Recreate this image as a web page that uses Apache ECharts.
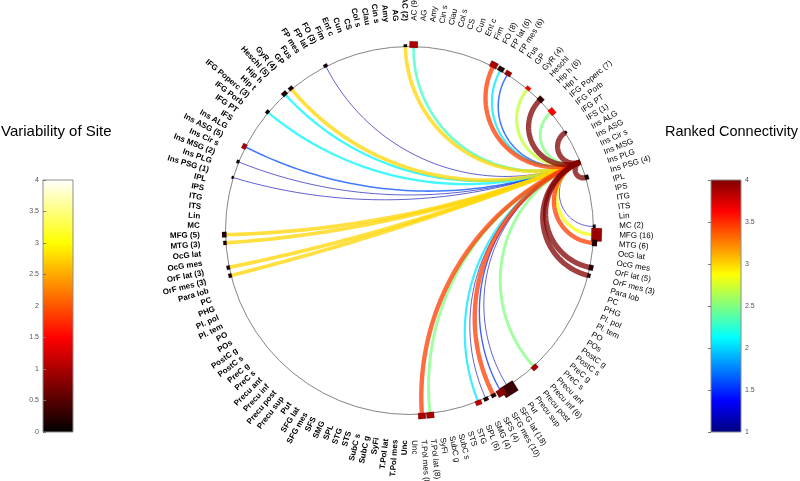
<!DOCTYPE html>
<html>
<head>
<meta charset="utf-8">
<script src="https://cdn.jsdelivr.net/npm/echarts@6/dist/echarts.min.js"></script>
<style>
  html, body { margin: 0; padding: 0; background: #fff; }
  #chart { width: 800px; height: 481px; }
</style>
</head>
<body>
<div id="chart"></div>
<script>
// regions, same order on both hemispheres (alphabetical from the top)
var regions = ['AC', 'AG', 'Amy', 'Cin s', 'Clau', 'Col s', 'CS', 'Cun', 'Ent c', 'Fim',
  'FO', 'FP lat', 'FP mes', 'Fus', 'GP', 'GyR', 'Heschl', 'Hip h', 'Hip t', 'IFG Poperc',
  'IFG Porb', 'IFG PT', 'IFS', 'Ins ALG', 'Ins ASG', 'Ins Cir s', 'Ins MSG', 'Ins PLG', 'Ins PSG', 'IPL',
  'IPS', 'ITG', 'ITS', 'Lin', 'MC', 'MFG', 'MTG', 'OcG lat', 'OcG mes', 'OrF lat',
  'OrF mes', 'Para lob', 'PC', 'PHG', 'Pl. pol', 'Pl. tem', 'PO', 'POs', 'PostC g', 'PostC s',
  'PreC g', 'PreC s', 'Precu ant', 'Precu inf', 'Precu post', 'Precu sup', 'Put', 'SFG lat', 'SFG mes', 'SFS',
  'SMG', 'SPL', 'STG', 'STS', 'SubC s', 'SubC g', 'SyFi', 'T.Pol lat', 'T.Pol mes', 'Unc'];

// seed region all chords start from
var hubSide = 'R';
var hubRegion = 'Ins MSG';

// recording sites: hemisphere, region, number of sites, variability
var siteSide = ['L', 'L', 'L', 'L', 'L', 'L', 'L', 'L', 'L', 'L', 'L', 'L',
  'R', 'R', 'R', 'R', 'R', 'R', 'R', 'R', 'R', 'R', 'R', 'R', 'R', 'R', 'R', 'R', 'R', 'R', 'R', 'R', 'R', 'R'];
var siteRegion = ['AC', 'FO', 'GyR', 'Heschl', 'IFG Poperc', 'Ins ASG', 'Ins MSG', 'Ins PSG', 'MFG', 'MTG', 'OrF lat', 'OrF mes',
  'AC', 'FO', 'FP lat', 'FP mes', 'GyR', 'Hip h', 'IFG Poperc', 'IFS', 'Ins PSG', 'MC', 'MFG', 'MTG', 'OrF lat', 'OrF mes',
  'Precu inf', 'SFG lat', 'SFG mes', 'SFS', 'SMG', 'SPL', 'T.Pol lat', 'T.Pol mes'];
var siteCount = [2, 3, 4, 5, 3, 5, 2, 1, 5, 3, 3, 3,
  9, 8, 6, 6, 4, 6, 7, 1, 4, 2, 16, 6, 5, 3, 6, 18, 10, 4, 4, 6, 8, 8];
var siteVariability = [0.1, 0.1, 0.15, 0.15, 0.1, 1.0, 0.1, 0.1, 0.2, 0.15, 0.15, 0.15,
  1.0, 1.0, 0.2, 0.9, 1.5, 0.3, 1.5, 0.1, 0.1, 0.1, 0.9, 0.2, 0.2, 0.2, 1.0, 0.35, 0.8, 0.2, 0.2, 1.1, 1.0, 1.0];

// connections from the seed: hemisphere, region, rank
var linkSide = ['L', 'L', 'L', 'L', 'L', 'L', 'L', 'L', 'L', 'L', 'L', 'L',
  'R', 'R', 'R', 'R', 'R', 'R', 'R', 'R', 'R', 'R', 'R', 'R', 'R', 'R', 'R', 'R', 'R', 'R', 'R', 'R', 'R', 'R'];
var linkRegion = ['AC', 'FO', 'GyR', 'Heschl', 'IFG Poperc', 'Ins ASG', 'Ins MSG', 'Ins PSG', 'MFG', 'MTG', 'OrF lat', 'OrF mes',
  'AC', 'FO', 'FP lat', 'FP mes', 'GyR', 'Hip h', 'IFG Poperc', 'IFS', 'Ins PSG', 'MC', 'MFG', 'MTG', 'OrF lat', 'OrF mes',
  'Precu inf', 'SFG lat', 'SFG mes', 'SFS', 'SMG', 'SPL', 'T.Pol lat', 'T.Pol mes'];
var linkRank = [3.0, 1.15, 3.0, 2.1, 2.1, 1.6, 1.15, 1.15, 3.0, 3.0, 3.0, 3.0,
  2.3, 3.45, 2.05, 1.6, 2.7, 4.0, 2.5, 4.0, 4.0, 1.15, 2.85, 3.45, 4.0, 4.0,
  2.5, 1.15, 1.5, 3.45, 1.15, 2.05, 2.5, 3.45];

// colour bar ticks
var siteTicks = [0, 0.5, 1, 1.5, 2, 2.5, 3, 3.5, 4];
var rankTicks = [1, 1.5, 2, 2.5, 3, 3.5, 4];

var step = 360 / (2 * regions.length);

function clamp(v) { return Math.max(0, Math.min(1, v)); }
function rgb(r, g, b) {
  return 'rgb(' + Math.round(r * 255) + ',' + Math.round(g * 255) + ',' + Math.round(b * 255) + ')';
}
function jet(t) {
  return rgb(clamp(1.5 - Math.abs(4 * t - 3)), clamp(1.5 - Math.abs(4 * t - 2)), clamp(1.5 - Math.abs(4 * t - 1)));
}
function hot(t) {
  return rgb(clamp(8 * t / 3), clamp(8 * t / 3 - 1), clamp(4 * t - 3));
}
function rankColor(v) {
  return jet((v - rankTicks[0]) / (rankTicks[rankTicks.length - 1] - rankTicks[0]));
}
function siteColor(v) {
  return hot((v - siteTicks[0]) / (siteTicks[siteTicks.length - 1] - siteTicks[0]));
}

// degrees clockwise from the top
function nodeAngle(side, name) {
  var a = (regions.indexOf(name) + 0.5) * step;
  return side === 'R' ? a : -a;
}
function unitPt(deg, r) {
  var t = deg * Math.PI / 180;
  r = r || 1;
  return [r * Math.sin(t), r * Math.cos(t)];
}

// arc orthogonal to the unit circle between two nodes
function arcPts(a1, a2) {
  var p = unitPt(a1), q = unitPt(a2);
  var d = Math.abs(a1 - a2) % 360;
  if (d > 180) d = 360 - d;
  var n = 60, pts = [], k;
  if (d > 179) {
    for (k = 0; k <= n; k++) pts.push([p[0] + (q[0] - p[0]) * k / n, p[1] + (q[1] - p[1]) * k / n]);
    return pts;
  }
  var half = d / 2 * Math.PI / 180;
  var sx = p[0] + q[0], sy = p[1] + q[1], sl = Math.sqrt(sx * sx + sy * sy);
  var cx = sx / sl / Math.cos(half), cy = sy / sl / Math.cos(half), r = Math.tan(half);
  var t1 = Math.atan2(p[1] - cy, p[0] - cx), t2 = Math.atan2(q[1] - cy, q[0] - cx);
  var dt = t2 - t1;
  while (dt > Math.PI) dt -= 2 * Math.PI;
  while (dt < -Math.PI) dt += 2 * Math.PI;
  for (k = 0; k <= n; k++) {
    var t = t1 + dt * k / n;
    pts.push([cx + r * Math.cos(t), cy + r * Math.sin(t)]);
  }
  return pts;
}

// draw thin links first so the strong ones lie on top
var linkOrder = linkRank.map(function (v, i) { return i; });
linkOrder.sort(function (a, b) { return linkRank[a] - linkRank[b]; });

// label text per node
var labelData = [];
['R', 'L'].forEach(function (side) {
  regions.forEach(function (name) {
    var txt = name;
    for (var i = 0; i < siteRegion.length; i++) {
      if (siteSide[i] === side && siteRegion[i] === name) txt += ' (' + siteCount[i] + ')';
    }
    labelData.push({ side: side, name: name, text: txt });
  });
});

function gradient(fn, lo, hi) {
  var stops = [];
  for (var k = 0; k <= 64; k++) {
    stops.push({ offset: k / 64, color: fn(lo + (hi - lo) * k / 64) });
  }
  return new echarts.graphic.LinearGradient(0, 1, 0, 0, stops);
}

function colorBar(gridIndex, ticks, fn) {
  return {
    type: 'custom',
    xAxisIndex: gridIndex,
    yAxisIndex: gridIndex,
    data: [[0, ticks[0]]],
    silent: true,
    renderItem: function (params, api) {
      var tl = api.coord([0, ticks[ticks.length - 1]]);
      var br = api.coord([1, ticks[0]]);
      return {
        type: 'rect',
        shape: { x: tl[0], y: tl[1], width: br[0] - tl[0], height: br[1] - tl[1] },
        style: { fill: gradient(fn, ticks[0], ticks[ticks.length - 1]), stroke: '#8c8c8c', lineWidth: 1 }
      };
    }
  };
}

function barAxis(gridIndex, ticks, position) {
  return {
    gridIndex: gridIndex,
    type: 'value',
    position: position,
    min: ticks[0],
    max: ticks[ticks.length - 1],
    interval: ticks[1] - ticks[0],
    axisLine: { show: false },
    axisTick: { show: true, inside: true, length: 3, lineStyle: { color: '#777' } },
    axisLabel: { fontSize: 7, color: '#555', margin: 4, fontFamily: 'Liberation Sans' },
    splitLine: { show: false },
    z: 5
  };
}

var chart = echarts.init(document.getElementById('chart'));

var option = {
  animation: false,
  backgroundColor: '#fff',
  title: [
    { text: 'Variability of Site', left: 1, top: 124, padding: 0, textStyle: { fontSize: 15, fontWeight: 'normal', color: '#000', fontFamily: 'Liberation Sans' } },
    { text: 'Ranked Connectivity', right: 2, top: 124, padding: 0, textStyle: { fontSize: 14.5, fontWeight: 'normal', color: '#000', fontFamily: 'Liberation Sans' } }
  ],
  grid: [
    { left: 225.5, top: 46.5, width: 368, height: 368 },
    { left: 43, top: 180, width: 30, height: 252 },
    { left: 711, top: 180, width: 30, height: 252 }
  ],
  xAxis: [
    { gridIndex: 0, type: 'value', min: -1, max: 1, show: false },
    { gridIndex: 1, type: 'value', min: 0, max: 1, show: false },
    { gridIndex: 2, type: 'value', min: 0, max: 1, show: false }
  ],
  yAxis: [
    { gridIndex: 0, type: 'value', min: -1, max: 1, show: false },
    barAxis(1, siteTicks, 'left'),
    barAxis(2, rankTicks, 'right')
  ],
  series: [
    // outline circle
    {
      type: 'custom',
      silent: true,
      data: [[0, 0]],
      renderItem: function (params, api) {
        var c = api.coord([0, 0]);
        var r = api.size([1, 0])[0];
        return { type: 'circle', shape: { cx: c[0], cy: c[1], r: r }, style: { fill: 'none', stroke: '#858585', lineWidth: 1 } };
      }
    },
    // connections
    {
      type: 'custom',
      silent: true,
      data: linkOrder.map(function (i) { return [i, linkRank[i]]; }),
      renderItem: function (params, api) {
        var i = linkOrder[params.dataIndex];
        var a1 = nodeAngle(hubSide, hubRegion);
        var a2 = nodeAngle(linkSide[i], linkRegion[i]);
        var pts = arcPts(a1, a2).map(function (p) { return api.coord(p); });
        return {
          type: 'polyline',
          shape: { points: pts },
          style: { stroke: rankColor(linkRank[i]), lineWidth: 0.6 + (linkRank[i] - 1) * 1.55, fill: null, opacity: 0.75, lineJoin: 'round' }
        };
      }
    },
    // site markers
    {
      type: 'custom',
      silent: true,
      data: siteRegion.map(function (n, i) { return [i, siteCount[i]]; }),
      renderItem: function (params, api) {
        var i = params.dataIndex;
        var a = nodeAngle(siteSide[i], siteRegion[i]);
        var R = api.size([1, 0])[0];
        var len = 2 + 0.7 * siteCount[i];
        var th = 1.6 + 0.55 * siteCount[i];
        var c = api.coord(unitPt(a, 1 + th * 0.3 / R));
        var t = a * Math.PI / 180;
        var rx = Math.sin(t), ry = -Math.cos(t);
        var tx = Math.cos(t), ty = Math.sin(t);
        var pts = [[1, 1], [1, -1], [-1, -1], [-1, 1]].map(function (s) {
          return [c[0] + rx * s[0] * th / 2 + tx * s[1] * len / 2, c[1] + ry * s[0] * th / 2 + ty * s[1] * len / 2];
        });
        return { type: 'polygon', shape: { points: pts }, style: { fill: siteColor(siteVariability[i]), stroke: 'rgba(0,0,0,0.35)', lineWidth: 0.5 } };
      }
    },
    // region labels
    {
      type: 'custom',
      silent: true,
      data: labelData.map(function (d, i) { return [i, 0]; }),
      renderItem: function (params, api) {
        var d = labelData[params.dataIndex];
        var a = nodeAngle(d.side, d.name);
        var p = api.coord(unitPt(a, 1.14));
        var rot = d.side === 'R' ? (90 - a) : (-a - 90);
        return {
          type: 'text',
          x: p[0],
          y: p[1],
          rotation: rot * Math.PI / 180,
          style: {
            text: d.text,
            align: d.side === 'R' ? 'left' : 'right',
            verticalAlign: 'middle',
            fill: '#000',
            font: (d.side === 'L' ? 'bold ' : '') + '8px "Liberation Sans", Arial, sans-serif'
          }
        };
      }
    },
    colorBar(1, siteTicks, siteColor),
    colorBar(2, rankTicks, rankColor)
  ]
};

chart.setOption(option);
</script>
</body>
</html>
